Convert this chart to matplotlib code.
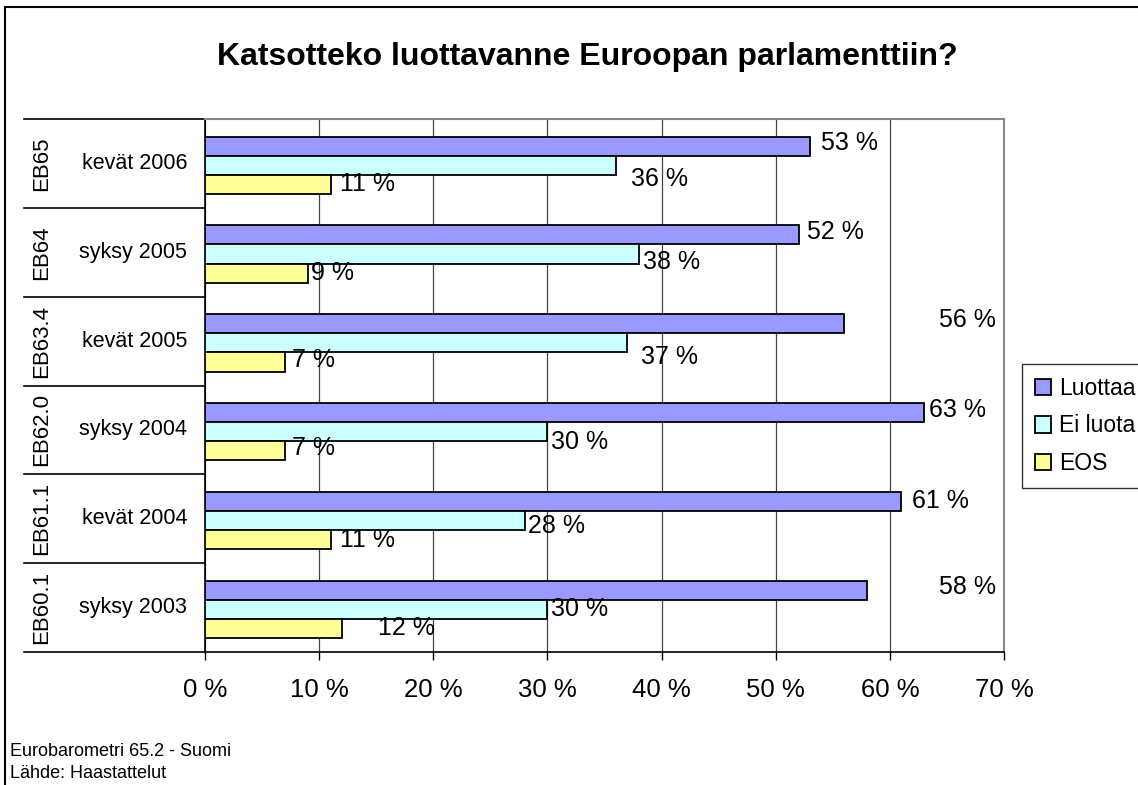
import numpy as np
import matplotlib
matplotlib.use("Agg")
import matplotlib.pyplot as plt
from matplotlib.patches import Rectangle
from matplotlib.lines import Line2D
import matplotlib.transforms as mtransforms

plt.rcParams['font.family'] = ['Liberation Sans', 'DejaVu Sans']

# data, top group first
surveys = ['EB65', 'EB64', 'EB63.4', 'EB62.0', 'EB61.1', 'EB60.1']
periods = ['kevät 2006', 'syksy 2005', 'kevät 2005', 'syksy 2004', 'kevät 2004', 'syksy 2003']
luottaa = [53, 52, 56, 63, 61, 58]
ei_luota = [36, 38, 37, 30, 28, 30]
eos = [11, 9, 7, 7, 11, 12]
series_names = ['Luottaa', 'Ei luota', 'EOS']
colors = ['#9999FF', '#CCFFFF', '#FFFF99']
xticks = [0, 10, 20, 30, 40, 50, 60, 70]

# label placement tweaks (x in %, y in group units) to mimic the original
lab_dx = [[0.7, 0.4, 8.0, 0.1, 0.6, 6.0],
          [1.0, 0.1, 0.9, 0.0, 0.0, 0.0],
          [0.5, 0.0, 0.3, 0.3, 0.5, 2.9]]
lab_dy = [[-0.03, -0.03, -0.04, -0.03, -0.01, -0.04],
          [0.15, 0.09, 0.16, 0.12, 0.06, 0.0],
          [0.0, 0.0, -0.02, -0.03, 0.0, 0.0]]

W, H = 1138, 785
fig = plt.figure(figsize=(W / 100, H / 100), dpi=100)
ax = fig.add_axes([205 / W, 1 - 652 / H, (1004 - 205) / W, (652 - 119) / H])

n = len(periods)
y = np.arange(n)
h = 0.215
offsets = [-h, 0.0, h]
vals = [luottaa, ei_luota, eos]

for k, (v, c, name) in enumerate(zip(vals, colors, series_names)):
    ax.barh(y + offsets[k] + 0.02, v, height=h, color=c, edgecolor='black',
            linewidth=1.3, label=name, zorder=3)
    for i, val in enumerate(v):
        ax.text(val + 0.3 + lab_dx[k][i], y[i] + offsets[k] + 0.02 + lab_dy[k][i],
                f'{val} %', va='center', ha='left', fontsize=18, zorder=4)

ax.set_xlim(0, 70)
ax.set_ylim(n - 0.5, -0.5)
ax.set_xticks(xticks)
ax.set_xticklabels([f'{t} %' for t in xticks], fontsize=18.5)
ax.tick_params(axis='x', length=6, width=1, pad=13, direction='out')
ax.set_yticks([])
ax.grid(axis='x', color='#444444', linewidth=0.9, zorder=0)

for s in ['top', 'right']:
    ax.spines[s].set_color('#888888')
    ax.spines[s].set_linewidth(1.5)
for s in ['left', 'bottom']:
    ax.spines[s].set_color('black')
    ax.spines[s].set_linewidth(1.2)

# two-level category axis
trans = mtransforms.blended_transform_factory(ax.transAxes, ax.transData)
x_left = (24 - 205) / (1004 - 205)
for b in np.arange(-0.5, n, 1.0):
    ax.add_line(Line2D([x_left, 0], [b, b], transform=trans, color='black',
                       linewidth=1.2, clip_on=False))
for i in range(n):
    ax.text((42 - 205) / 799, y[i], surveys[i], transform=trans, rotation=90,
            ha='center', va='center', fontsize=16)
    ax.text((187 - 205) / 799, y[i], periods[i], transform=trans,
            ha='right', va='center', fontsize=15.5)

fig.text(587 / W, 1 - 57 / H, 'Katsotteko luottavanne Euroopan parlamenttiin?',
         ha='center', va='center', fontsize=23, fontweight='bold')

leg = fig.legend(loc='upper left', bbox_to_anchor=(1022 / W, 1 - 364 / H),
                 fontsize=16.5, frameon=True, fancybox=False, handlelength=0.7,
                 handleheight=0.7, handletextpad=0.35, labelspacing=0.65,
                 borderpad=0.55, borderaxespad=0)
leg.get_frame().set_edgecolor('black')
leg.get_frame().set_linewidth(1.0)

fig.text(10 / W, 1 - 751 / H, 'Eurobarometri 65.2 - Suomi', ha='left', va='center', fontsize=13)
fig.text(10 / W, 1 - 773 / H, 'Lähde: Haastattelut', ha='left', va='center', fontsize=13)

fig.patches.append(Rectangle((5 / W, -0.01), 1.0, 1 - 7 / H + 0.01, transform=fig.transFigure,
                             fill=False, edgecolor='black', linewidth=1.5))

fig.savefig('out.png', dpi=100)
